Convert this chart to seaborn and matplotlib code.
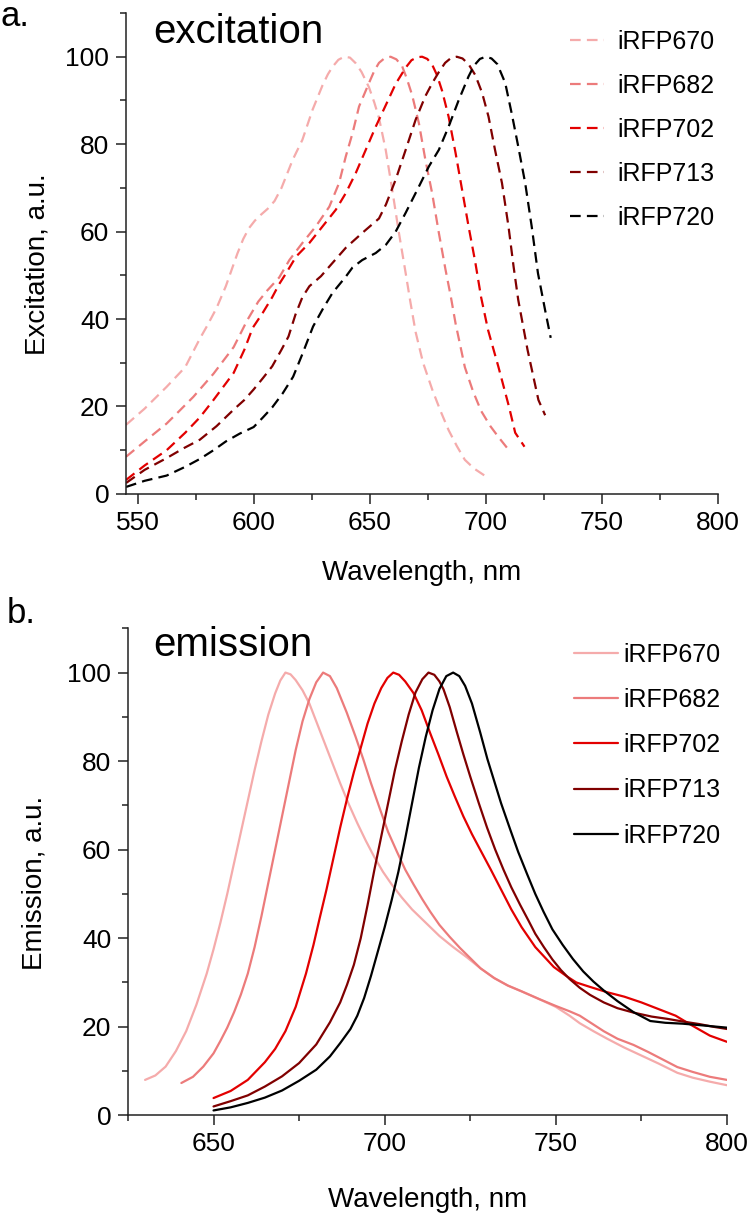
import matplotlib
matplotlib.use("Agg")
import matplotlib.pyplot as plt
from matplotlib.ticker import MultipleLocator
import pandas as pd
import seaborn as sns

names = ["iRFP670", "iRFP682", "iRFP702", "iRFP713", "iRFP720"]
colors = ["#F5ABAB", "#EC7B7B", "#E30000", "#800000", "#000000"]

# excitation spectra (wavelength nm, intensity a.u.)
ex670_x = [545, 553, 562.5, 570.5, 576.8, 580, 584, 588, 590, 593, 595.5, 598, 600.5, 603, 606, 609, 612,
           616.8, 621, 625.4, 629.7, 632, 634, 636.5, 639, 641.5, 644, 646.5, 649.7, 652, 654, 656.9, 659.7,
           662.6, 665.5, 667.5, 669.8, 673, 677, 680.5, 684, 687.5, 691, 695, 699.8]
ex670_y = [15.8, 19.5, 24.5, 29, 35.5, 38.5, 42.5, 47.5, 50.5, 55, 58.3, 60.8, 62.5, 63.8, 65.2, 67, 70,
           76.4, 81, 87.9, 93.5, 96, 97.7, 99.3, 100, 99.8, 98.5, 96.5, 93, 89.5, 86, 78.7, 69.6,
           59.7, 50.5, 44, 37, 30, 23.8, 19, 14.6, 11, 7.8, 5.8, 4.1]
ex682_x = [545, 553, 562.5, 568, 574, 582.7, 591.4, 597.2, 602, 605.8, 611, 615.4, 621, 626.8, 632.6, 636.8,
           639.7, 642.6, 645.4, 649.7, 652, 654, 656.5, 659, 661.5, 664, 666, 668.3, 671.2, 674, 676.9, 679.8,
           682.6, 685, 687, 691, 694.5, 698, 702, 705.5, 710]
ex682_y = [8.5, 12, 16.1, 19, 22.2, 27.5, 33.6, 39.7, 44, 46.5, 49.5, 53.5, 57.4, 61.2, 65.7, 71.1,
           77.2, 82.5, 88.6, 94, 96.8, 98.6, 99.7, 100, 99.4, 97.8, 95, 91.2, 84.8, 76.4, 68.8, 59.7,
           51.5, 45, 39, 29, 23.5, 19, 15.5, 13, 10]
ex702_x = [545, 553, 562.5, 570.5, 576.8, 582.7, 591.4, 596, 599.6, 604, 608, 611, 614, 618.3, 624, 629.7,
           635.4, 639.7, 644, 648.3, 652.6, 657, 661.2, 665.5, 668, 670.5, 672.6, 674.8, 676.9, 679, 681.2, 684,
           687, 689.8, 692.6, 695.5, 698, 701, 705.5, 710, 712.7, 716.7]
ex702_y = [3.2, 6.5, 10, 14, 17.5, 21.5, 27.7, 33, 38, 41.5, 45, 48, 50.5, 54.3, 57.4, 61.2,
           65, 68.8, 73.4, 78.7, 84, 89, 93.8, 97.5, 99.2, 99.9, 100, 99.5, 98.2, 95.8, 92.2, 86.3,
           78, 69.6, 61.2, 53, 45, 37.5, 29, 20, 14, 10.8]
ex713_x = [545, 553, 562.5, 570, 576.8, 584, 591.4, 596, 600, 604, 608, 612, 615, 618, 621, 624, 629,
           632.6, 639.7, 646.8, 654, 657, 661.2, 665.5, 669.8, 674, 677, 679.8, 682.5, 685, 687.5, 690, 692.6,
           695.5, 698.4, 701.2, 704, 707, 709.8, 712, 714, 718, 722.7, 725.6]
ex713_y = [2.5, 5.5, 8.2, 10.5, 12.4, 15.5, 19.3, 21.5, 23.9, 26.5, 29.2, 33, 36, 41, 45, 47.5, 49.8,
           52, 56.3, 59.7, 63, 66.2, 71.9, 78.7, 85.6, 91, 94, 96.5, 98.6, 99.7, 100, 99.6, 98.3,
           95.8, 91.8, 86.3, 78.7, 71.1, 61.2, 52, 44.4, 33, 21.5, 18]
ex720_x = [545, 553, 562.5, 570.5, 576.8, 582.7, 588, 594, 600, 604, 608, 612.5, 617, 621, 625.6, 630, 634,
           639.7, 642.6, 646.8, 652.6, 657, 661.2, 665.5, 671.2, 675.5, 679.8, 684, 688.3, 692.6, 695, 697.5,
           700, 702.5, 705, 708.4, 711.2, 714, 717, 719.8, 722.5, 725.6, 728]
ex720_y = [1.6, 3, 4.2, 6.2, 8, 10, 12, 13.8, 15.3, 17.5, 19.8, 23, 26.8, 32, 38.3, 42.5, 46,
           49.7, 51.8, 53.5, 55.1, 57, 60, 64.3, 70.3, 74.9, 78.7, 84, 90, 95.5, 98, 99.5,
           100, 99.6, 98.3, 94, 87, 79.5, 71.1, 61.2, 50.5, 42, 35.7]

# emission spectra
em670_x = [630, 633, 636, 639, 642, 645, 648, 650, 652, 654, 656, 658, 660, 662, 664, 666, 668, 669.5, 671,
           672.5, 674, 676, 678, 680, 682, 684.5, 687, 689.5, 692, 694.5, 697, 699.5, 702, 705, 708, 712,
           716, 720, 724, 728, 732, 736, 740, 745, 750, 754, 757, 761, 765, 770, 775, 780, 785.5, 790,
           795, 800]
em670_y = [8, 9, 11, 14.5, 19, 25, 32, 37.5, 43.5, 50, 57, 64, 71, 78, 84.5, 90.5, 95.3, 98.2, 100,
           99.6, 98.3, 96, 93, 89, 85, 80, 75, 70.3, 66, 62, 58.3, 55, 52.2, 49.2, 46.5, 43.5,
           40.5, 38, 35.7, 33.2, 31, 29.3, 28, 26.3, 24.5, 22.5, 20.8, 19, 17.3, 15.3, 13.5, 11.7, 9.6, 8.5,
           7.6, 6.8]
em682_x = [640.6, 644, 647, 650, 652, 654, 656, 658, 660, 662, 664, 666, 668, 670, 672, 674, 676, 678, 680,
           682, 684, 686, 688.9, 691.5, 693.8, 696, 698.7, 701, 703.6, 706, 708.4, 711, 713.3, 716, 719, 722,
           725, 728, 732, 736, 740, 745, 750, 754, 757, 760, 764, 768, 772.7, 777, 781, 785.5, 790, 795, 800]
em682_y = [7.3, 8.7, 11, 14, 16.8, 19.8, 23.3, 27.3, 32, 38, 45, 52.5, 60, 67.5, 75, 82.5, 89, 94, 97.8,
           100, 99.2, 96.5, 91, 85.5, 80.3, 75, 69, 64, 59.5, 55.5, 52.2, 48.8, 46, 43, 40.3, 37.8,
           35.5, 33.2, 31, 29.3, 28, 26.3, 24.7, 23.5, 22.5, 21, 19, 17.3, 15.9, 14.3, 12.7, 10.9, 9.8, 8.7, 8]
em702_x = [650, 655, 660, 665, 668, 671, 674, 677, 679.2, 681, 683, 685, 687, 689, 691, 693, 695, 697, 699,
           700.8, 702.5, 704.2, 706, 708.4, 710.8, 713.3, 715.7, 718.1, 720.5, 723, 725.5, 727.9, 731, 734, 737,
           740, 744, 749.4, 753, 756, 760, 765, 770, 775, 780, 785, 790, 795, 800]
em702_y = [3.9, 5.5, 8, 12, 15, 19, 24.5, 32, 38.5, 44.5, 51, 58, 65, 71.5, 77.5, 83, 88.5, 93, 96.5,
           98.8, 100, 99.5, 98, 95.4, 91.5, 86.3, 81.5, 76.5, 72, 67.5, 63.5, 60, 55.5, 51, 46.5,
           42.5, 38, 33.5, 31.5, 30, 29, 27.8, 26.8, 25.5, 24, 22.5, 20.2, 18, 16.6]
em713_x = [650, 655, 660, 665, 670, 675, 680, 684, 687, 689, 691, 693, 695, 697, 699, 701, 703, 705, 707,
           709, 711, 712.8, 714.5, 716, 717.2, 719, 721.1, 723, 725, 727.5, 729.9, 732.3, 734.7, 737, 739.6,
           742, 744, 746.5, 749, 751.5, 754, 757, 760, 764, 768, 772.7, 778, 782.5, 787, 792, 796, 800]
em713_y = [2, 3.2, 4.5, 6.5, 8.8, 11.8, 16, 21, 25.5, 29.5, 34, 40, 47.5, 55.5, 63, 70.5, 78, 84.5, 90.5,
           95.5, 98.5, 100, 99.5, 98, 96.2, 92.2, 86.5, 81.5, 76.5, 70.5, 65, 60, 55.5, 51.5, 47.5,
           44, 41, 38, 35.2, 32.8, 30.8, 28.8, 27.2, 25.5, 24.2, 23.2, 22.3, 21.8, 21.2, 20.6, 20, 19.5]
em720_x = [650, 655, 660, 665, 670, 675, 680, 684, 687, 690, 692, 694, 696, 698, 700, 702, 704, 706, 708,
           710, 712, 714, 716, 718, 720, 721.8, 723.5, 725.5, 727.9, 730, 731.8, 734, 736.7, 739, 741.6, 744,
           746.4, 749, 752, 755, 758, 761, 764, 768, 772.7, 777.6, 782, 787, 793, 800]
em720_y = [1.1, 1.8, 2.8, 4, 5.6, 7.8, 10.3, 13.3, 16.3, 19.5, 22.5, 26.5, 31.5, 37, 42.5, 48.5, 55, 62.5, 70.5,
           78.5, 85.5, 91.5, 96.3, 99.2, 100, 99.2, 97, 93, 86.5, 80.5, 76, 70.5, 64.5, 59.5, 54.5, 50,
           46, 42, 38.5, 35.3, 32.5, 30.2, 28.2, 25.8, 23.3, 21.3, 20.9, 20.7, 20.3, 19.8]


def long_frame(xs, ys):
    rows = []
    for name, x, y in zip(names, xs, ys):
        rows.append(pd.DataFrame({"nm": x, "val": y, "protein": name}))
    return pd.concat(rows, ignore_index=True)


ex_df = long_frame([ex670_x, ex682_x, ex702_x, ex713_x, ex720_x],
                   [ex670_y, ex682_y, ex702_y, ex713_y, ex720_y])
em_df = long_frame([em670_x, em682_x, em702_x, em713_x, em720_x],
                   [em670_y, em682_y, em702_y, em713_y, em720_y])

sns.set_style("ticks")
plt.rcParams["font.family"] = ["Liberation Sans", "DejaVu Sans"]
for key in ["text.color", "axes.labelcolor", "xtick.color", "ytick.color", "axes.edgecolor"]:
    plt.rcParams[key] = "black"
pal = dict(zip(names, colors))

fig = plt.figure(figsize=(7.51, 12.16), dpi=100)
ax1 = fig.add_axes([0.1678, 0.5938, 0.788, 0.3955])
ax2 = fig.add_axes([0.1704, 0.0828, 0.7976, 0.4005])

sns.lineplot(data=ex_df, x="nm", y="val", hue="protein", palette=pal, hue_order=names,
             errorbar=None, legend=False, ax=ax1, lw=1.6, linestyle=(0, (4.8, 2.8)))
sns.lineplot(data=em_df, x="nm", y="val", hue="protein", palette=pal, hue_order=names,
             errorbar=None, legend=False, ax=ax2, lw=1.6)

for ax, xlo, ylab in [(ax1, 545, "Excitation, a.u."), (ax2, 625, "Emission, a.u.")]:
    ax.set_xlim(xlo, 800)
    ax.set_ylim(0, 110)
    ax.xaxis.set_major_locator(MultipleLocator(50))
    ax.xaxis.set_minor_locator(MultipleLocator(25))
    ax.yaxis.set_major_locator(MultipleLocator(20))
    ax.yaxis.set_minor_locator(MultipleLocator(10))
    ax.tick_params(which="major", direction="out", length=7, width=1.1, labelsize=19, pad=5, color="#222222")
    ax.tick_params(which="minor", direction="out", length=4, width=1.1, color="#222222")
    sns.despine(ax=ax)
    for s in ["left", "bottom"]:
        ax.spines[s].set_linewidth(1.1)
        ax.spines[s].set_color("#222222")
    ax.set_xlabel("Wavelength, nm", fontsize=20)
    ax.set_ylabel(ylab, fontsize=20)

ax1.yaxis.set_label_coords(-0.128, 0.478)
ax2.yaxis.set_label_coords(-0.134, 0.478)
ax1.xaxis.set_label_coords(0.5, -0.137)
ax2.xaxis.set_label_coords(0.5, -0.147)

ax1.legend(ax1.lines, names, loc="upper left", bbox_to_anchor=(0.759, 0.9755), bbox_transform=fig.transFigure,
           frameon=False, fontsize=18, handlelength=1.35, handletextpad=0.55, labelspacing=0.8,
           borderpad=0, borderaxespad=0)
ax2.legend(ax2.lines, names, loc="upper left", bbox_to_anchor=(0.764, 0.4715), bbox_transform=fig.transFigure,
           frameon=False, fontsize=18, handlelength=1.75, handletextpad=0.25, labelspacing=0.85,
           borderpad=0, borderaxespad=0)

fig.text(0.2037, 0.9646, "excitation", fontsize=29, va="baseline")
fig.text(0.2037, 0.4605, "emission", fontsize=29, va="baseline")
fig.text(0.0, 0.979, "a.", fontsize=25, va="baseline")
fig.text(0.009, 0.4877, "b.", fontsize=25, va="baseline")

fig.savefig("out.png", dpi=100)
